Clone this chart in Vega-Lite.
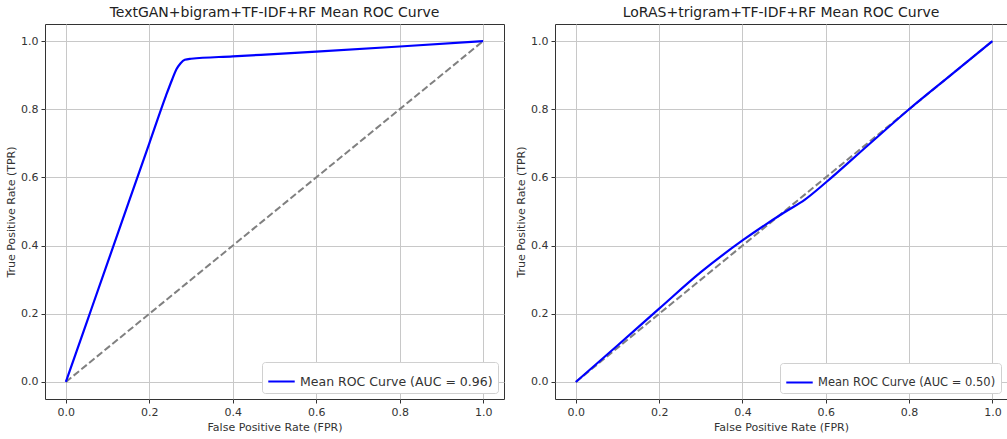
{
  "$schema": "https://vega.github.io/schema/vega-lite/v6.json",
  "padding": {"left": 5, "top": 5, "right": 0, "bottom": 0},
  "background": "white",
  "spacing": 10,
  "config": {
    "font": "DejaVu Sans",
    "view": {"stroke": "#333333", "strokeWidth": 1},
    "axis": {
      "grid": true, "gridColor": "#c8c8c8", "gridWidth": 1,
      "domain": false, "tickColor": "#333333", "tickSize": 4,
      "labelFont": "DejaVu Sans", "labelFontSize": 11, "labelColor": "#333333",
      "titleFont": "DejaVu Sans", "titleFontSize": 11, "titleFontWeight": "normal", "titleColor": "#333333",
      "labelPadding": 3
    },
    "title": {"font": "DejaVu Sans", "fontSize": 14, "fontWeight": "normal", "color": "#222222", "offset": 4},
    "legend": {
      "orient": "bottom-right", "offset": 6, "fillColor": "white", "strokeColor": "#d0d0d0",
      "cornerRadius": 3, "padding": 5, "symbolType": "stroke", "symbolStrokeWidth": 2,
      "symbolSize": 700, "labelFont": "DejaVu Sans", "labelColor": "#333333", "title": null,
      "labelLimit": 500
    }
  },
  "hconcat": [
    {
      "width": 459, "height": 375,
      "title": "TextGAN+bigram+TF-IDF+RF Mean ROC Curve",
      "layer": [
        {
          "data": {"values": [{"fpr": 0, "tpr": 0}, {"fpr": 1, "tpr": 1}]},
          "mark": {"type": "line", "color": "#808080", "strokeWidth": 2, "strokeDash": [7, 3]},
          "encoding": {
            "x": {"field": "fpr", "type": "quantitative"},
            "y": {"field": "tpr", "type": "quantitative"}
          }
        },
        {
          "data": {"values": [
            {"fpr": 0, "tpr": 0, "s": "Mean ROC Curve (AUC = 0.96)"},
            {"fpr": 0.05, "tpr": 0.175, "s": "Mean ROC Curve (AUC = 0.96)"},
            {"fpr": 0.1, "tpr": 0.35, "s": "Mean ROC Curve (AUC = 0.96)"},
            {"fpr": 0.15, "tpr": 0.525, "s": "Mean ROC Curve (AUC = 0.96)"},
            {"fpr": 0.2, "tpr": 0.7, "s": "Mean ROC Curve (AUC = 0.96)"},
            {"fpr": 0.24, "tpr": 0.84, "s": "Mean ROC Curve (AUC = 0.96)"},
            {"fpr": 0.255, "tpr": 0.888, "s": "Mean ROC Curve (AUC = 0.96)"},
            {"fpr": 0.265, "tpr": 0.917, "s": "Mean ROC Curve (AUC = 0.96)"},
            {"fpr": 0.275, "tpr": 0.935, "s": "Mean ROC Curve (AUC = 0.96)"},
            {"fpr": 0.285, "tpr": 0.945, "s": "Mean ROC Curve (AUC = 0.96)"},
            {"fpr": 0.3, "tpr": 0.948, "s": "Mean ROC Curve (AUC = 0.96)"},
            {"fpr": 0.4, "tpr": 0.955, "s": "Mean ROC Curve (AUC = 0.96)"},
            {"fpr": 0.6, "tpr": 0.969, "s": "Mean ROC Curve (AUC = 0.96)"},
            {"fpr": 0.8, "tpr": 0.984, "s": "Mean ROC Curve (AUC = 0.96)"},
            {"fpr": 1, "tpr": 1, "s": "Mean ROC Curve (AUC = 0.96)"}
          ]},
          "mark": {"type": "line", "strokeWidth": 2.2, "interpolate": "monotone"},
          "encoding": {
            "x": {"field": "fpr", "type": "quantitative", "title": "False Positive Rate (FPR)",
                  "scale": {"domain": [-0.05, 1.05], "nice": false, "zero": false},
                  "axis": {"values": [0, 0.2, 0.4, 0.6, 0.8, 1.0], "format": ".1f"}},
            "y": {"field": "tpr", "type": "quantitative", "title": "True Positive Rate (TPR)",
                  "scale": {"domain": [-0.05, 1.05], "nice": false, "zero": false},
                  "axis": {"values": [0, 0.2, 0.4, 0.6, 0.8, 1.0], "format": ".1f"}},
            "color": {"field": "s", "type": "nominal", "scale": {"range": ["#0000ff"]},
                      "legend": {"labelFontSize": 12.5}}
          }
        }
      ]
    },
    {
      "width": 452, "height": 375,
      "title": "LoRAS+trigram+TF-IDF+RF Mean ROC Curve",
      "layer": [
        {
          "data": {"values": [{"fpr": 0, "tpr": 0}, {"fpr": 1, "tpr": 1}]},
          "mark": {"type": "line", "color": "#808080", "strokeWidth": 2, "strokeDash": [7, 3]},
          "encoding": {
            "x": {"field": "fpr", "type": "quantitative"},
            "y": {"field": "tpr", "type": "quantitative"}
          }
        },
        {
          "data": {"values": [
            {"fpr": 0, "tpr": 0, "s": "Mean ROC Curve (AUC = 0.50)"},
            {"fpr": 0.1, "tpr": 0.107, "s": "Mean ROC Curve (AUC = 0.50)"},
            {"fpr": 0.2, "tpr": 0.215, "s": "Mean ROC Curve (AUC = 0.50)"},
            {"fpr": 0.3, "tpr": 0.322, "s": "Mean ROC Curve (AUC = 0.50)"},
            {"fpr": 0.4, "tpr": 0.415, "s": "Mean ROC Curve (AUC = 0.50)"},
            {"fpr": 0.5, "tpr": 0.497, "s": "Mean ROC Curve (AUC = 0.50)"},
            {"fpr": 0.55, "tpr": 0.535, "s": "Mean ROC Curve (AUC = 0.50)"},
            {"fpr": 0.6, "tpr": 0.585, "s": "Mean ROC Curve (AUC = 0.50)"},
            {"fpr": 0.7, "tpr": 0.693, "s": "Mean ROC Curve (AUC = 0.50)"},
            {"fpr": 0.8, "tpr": 0.8, "s": "Mean ROC Curve (AUC = 0.50)"},
            {"fpr": 0.9, "tpr": 0.9, "s": "Mean ROC Curve (AUC = 0.50)"},
            {"fpr": 1, "tpr": 1, "s": "Mean ROC Curve (AUC = 0.50)"}
          ]},
          "mark": {"type": "line", "strokeWidth": 2.2, "interpolate": "monotone"},
          "encoding": {
            "x": {"field": "fpr", "type": "quantitative", "title": "False Positive Rate (FPR)",
                  "scale": {"domain": [-0.05, 1.035], "nice": false, "zero": false},
                  "axis": {"values": [0, 0.2, 0.4, 0.6, 0.8, 1.0], "format": ".1f"}},
            "y": {"field": "tpr", "type": "quantitative", "title": "True Positive Rate (TPR)",
                  "scale": {"domain": [-0.05, 1.05], "nice": false, "zero": false},
                  "axis": {"values": [0, 0.2, 0.4, 0.6, 0.8, 1.0], "format": ".1f"}},
            "color": {"field": "s", "type": "nominal", "scale": {"range": ["#0000ff"]},
                      "legend": {"labelFontSize": 11.5}}
          }
        }
      ]
    }
  ],
  "resolve": {"scale": {"color": "independent", "x": "independent", "y": "independent"}, "legend": {"color": "independent"}}
}
